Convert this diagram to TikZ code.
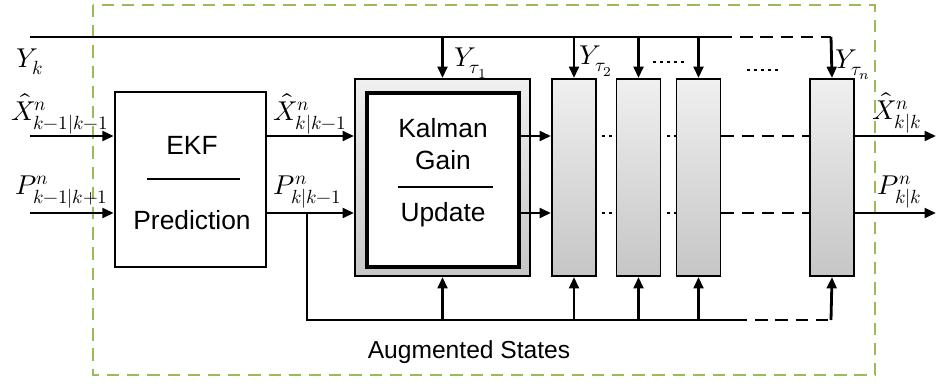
\documentclass[tikz,border=0pt]{standalone}
\usepackage{fontspec}
\usepackage{unicode-math}
\setsansfont{Liberation Sans}
\usetikzlibrary{arrows.meta}
\definecolor{grn}{HTML}{9BBB59}
\begin{document}
\begin{tikzpicture}[x=0.02cm,y=-0.02cm,
  ln/.style={line width=1.6pt},
  arr/.style={line width=1.6pt,-{Triangle[length=6.5pt,width=5.5pt]}},
  dsh/.style={line width=1.6pt,dash pattern=on 7pt off 4.5pt},
  dts/.style={line width=1.6pt,dash pattern=on 1.6pt off 2.4pt},
  plain/.style={draw,line width=1.4pt,fill=white,inner sep=0pt},
  grad/.style={draw,line width=1.1pt,top color=gray!12,bottom color=gray!45,inner sep=0pt},
  tbox/.style={font=\sffamily\fontsize{15}{18}\selectfont,inner sep=0pt},
  lab/.style={font=\fontsize{15.5}{18}\selectfont,inner sep=0pt},
  sep/.style={line width=0.7pt}]
\useasboundingbox (0,0) rectangle (936,383);
% green frame
\draw[grn,line width=1.6pt,dash pattern=on 7pt off 4.5pt] (93,5) rectangle (875,375);
% blocks
\node[plain,minimum width=3.02cm,minimum height=3.5cm] (ekf) at (190.5,179.5) {};
\node[grad,minimum width=3.5cm,minimum height=3.94cm] (kal) at (442.5,177.5) {};
\node[plain,line width=1.8pt,minimum width=3.04cm,minimum height=3.48cm] (kin) at (443,180) {};
\node[grad,minimum width=0.88cm,minimum height=3.94cm] (b1) at (574,177.5) {};
\node[grad,minimum width=0.88cm,minimum height=3.94cm] (b2) at (638.5,177.5) {};
\node[grad,minimum width=0.88cm,minimum height=3.94cm] (b3) at (698.5,177.5) {};
\node[grad,minimum width=0.88cm,minimum height=3.94cm] (b4) at (832,177.5) {};
% block texts
\node[tbox] (ekft) at (192,145) {EKF};
\node[tbox] (predt) at (192,220) {Prediction};
\draw[sep] (147,179) coordinate (e1) -- (240,179) coordinate (e2);
\node[tbox] (kalt) at (443,128) {Kalman};
\node[tbox] (gaint) at (443,160) {Gain};
\draw[sep] (398,187) coordinate (k1) -- (493,187) coordinate (k2);
\node[tbox] (updt) at (443,215) {Update};
% measurement bus
\coordinate (ys) at (30,37);
\coordinate (ym) at (720,37);
\coordinate (ye) at (831,37);
\draw[ln] (ys) -- (ym);
\draw[dsh] (ym) -- (ye);
\draw[arr] (kal.north |- ys) -- (kal.north);
\draw[arr] (b1.north |- ys) -- (b1.north);
\draw[arr] (b2.north |- ys) -- (b2.north);
\draw[arr] (b3.north |- ys) -- (b3.north);
\draw[arr] (ye) -- (b4.north);
% input/output coordinates
\coordinate (xin) at (30,136);
\coordinate (pin) at (30,213);
\coordinate (xout) at (936,136);
\coordinate (pout) at (936,213);
\draw[arr] (xin) -- (ekf.west |- xin);
\draw[arr] (pin) -- (ekf.west |- pin);
\draw[arr] (ekf.east |- xin) -- (kal.west |- xin);
\draw[arr] (ekf.east |- pin) -- (kal.west |- pin);
\draw[arr] (kin.east |- xin) -- (b1.west |- xin);
\draw[arr] (kin.east |- pin) -- (b1.west |- pin);
\draw[dts] ([xshift=3pt]b1.east |- xin) -- (b2.west |- xin);
\draw[dts] ([xshift=3pt]b1.east |- pin) -- (b2.west |- pin);
\draw[dts] ([xshift=3pt]b2.east |- xin) -- (b3.west |- xin);
\draw[dts] ([xshift=3pt]b2.east |- pin) -- (b3.west |- pin);
\draw[dsh] (b3.east |- xin) -- (b4.west |- xin);
\draw[dsh] (b3.east |- pin) -- (b4.west |- pin);
\draw[arr] (b4.east |- xin) -- (xout);
\draw[arr] (b4.east |- pin) -- (pout);
% feedback bus
\coordinate (pb) at (307,213);
\coordinate (bm) at (735,320);
\coordinate (be) at (831,320);
\draw[ln] (pb) |- (bm);
\draw[dsh] (bm) -- (be);
\draw[arr] (kal.south |- bm) -- (kal.south);
\draw[arr] (b1.south |- bm) -- (b1.south);
\draw[arr] (b2.south |- bm) -- (b2.south);
\draw[arr] (b3.south |- bm) -- (b3.south);
\draw[arr] (be) -- (b4.south);
% labels
\node[lab] (lyk) at (30,62) {$Y_k$};
\node[lab] (lx0) at (60,114) {$\hat{X}^n_{k-1|k-1}$};
\node[lab] (lp0) at (62,192) {$P^n_{k-1|k+1}$};
\node[lab] (lx1) at (310,114) {$\hat{X}^n_{k|k-1}$};
\node[lab] (lp1) at (308,192) {$P^n_{k|k-1}$};
\node[lab] (lt1) at (471,63) {$Y_{\tau_1}$};
\node[lab] (lt2) at (596,61) {$Y_{\tau_2}$};
\node[lab] (ltn) at (853,65) {$Y_{\tau_n}$};
\node[lab] (lx2) at (897,113) {$\hat{X}^n_{k|k}$};
\node[lab] (lp2) at (900,192) {$P^n_{k|k}$};
\draw[dts,line width=1.4pt] (653,62) coordinate (d1) -- (684,62) coordinate (d2);
\draw[dts,line width=1.4pt] (747,70) coordinate (d3) -- (778,70) coordinate (d4);
\node[tbox,font=\sffamily\fontsize{14}{17}\selectfont] (aug) at (469,352) {Augmented States};
\end{tikzpicture}
\end{document}
